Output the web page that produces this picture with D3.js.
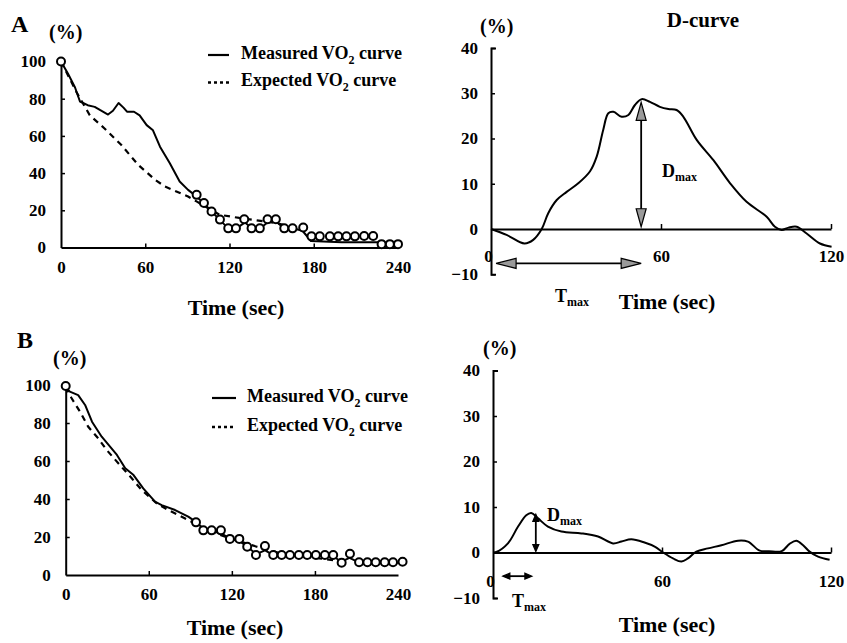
<!DOCTYPE html>
<html>
<head>
<meta charset="utf-8">
<script src="https://cdn.jsdelivr.net/npm/d3@7"></script>
<style>
  html, body { margin: 0; padding: 0; background: #fff; }
  svg { display: block; }
  text { font-family: "Liberation Serif", "Times New Roman", serif; font-weight: bold; fill: #000; }
</style>
</head>
<body>
<svg id="chart" width="847" height="643"></svg>
<script>
// ---------------- DATA ----------------
const leftTicksX = [0, 60, 120, 180, 240];
const leftTicksY = [0, 20, 40, 60, 80, 100];
const rightTicksX = [0, 60, 120];
const rightTicksY = [-10, 0, 10, 20, 30, 40];
const legendLabels = ["Measured VO", "Expected VO"];

// Panel A – VO2 curves (time s, %)
const aMeasured = [[0,100],[5,93.4],[10,86],[13.5,78.5],[19,76.5],[24,75.6],[28,73.8],[33.5,71.5],[37,73.5],[41,77.7],[44.5,75.2],[47,73],[52,73],[56,71],[61,65.8],[65.5,63],[70.5,54.2],[77.5,45.3],[84.5,35.5],[90.5,31],[96.5,27.5],[102,23.5],[107,19.5],[113,15],[119,10.3],[125,10.3],[131,13.5],[136,10.3],[142,10.3],[147,13.5],[153,14],[159,10.3],[165,10.3],[172,9],[178,3.5],[200,2.8],[225,2.8],[240,2]];
const aExpected = [[0,100],[11,83.6],[20.5,71.1],[31,64],[43,55.1],[55,44.4],[67,36.4],[74,32.8],[90.5,27.4],[96.5,24.8],[113,17.6],[127,15.9],[153,13.2],[175,9]];
const aCircles = [[0,100],[96.6,28.3],[101.8,23.9],[107.2,19.4],[113.2,15],[119.1,10.3],[124.6,10.3],[130.5,15.2],[135.7,10.3],[141.6,10.3],[147.1,15.2],[153,15.2],[159,10.3],[164.9,10.3],[172.5,10.8],[178.4,6],[184.3,6],[191.5,6],[197.4,6],[203.3,6],[209.3,6],[215.9,6.2],[222.3,6.2],[228.3,1.8],[234.2,1.8],[240,1.8]];
// Panel A – D-curve
const aDcurve = [[0,0],[5.5,-1.3],[11.8,-3.2],[14.9,-2.4],[17.9,0],[20.2,3.5],[23.2,6.4],[26.7,8.2],[30.8,10.1],[34.9,12.7],[37.3,16],[39.6,21.9],[41.4,25.6],[43.2,25.9],[46.1,24.8],[48.5,25.2],[50.8,27.4],[53.2,28.7],[56.1,28.1],[59.6,27],[62.6,26.5],[65.5,26.3],[67.9,24.8],[72.6,19.7],[78.5,15.2],[84.4,10.1],[90.2,6],[97.3,2.7],[100.2,0.5],[102.6,-0.2],[105,0.3],[107.9,0.5],[111.4,-1],[116.1,-3.2],[120.2,-3.9]];
const aDmaxArrow = [[53,0.5],[53,28]];
const aTmaxArrow = [[1.8,-7.6],[53,-7.6]];

// Panel B – VO2 curves
const bMeasured = [[0,99],[3,96.5],[9,94.7],[14,89.5],[19,80.7],[26,72.8],[37,63.2],[43,56.2],[49,52.6],[56,45.6],[64.5,38.6],[69.3,36.8],[79,34.2],[88.5,30.7],[94,28],[100,24],[106,23],[112,22],[119,19],[125,18],[131,15],[137.5,11],[144,13],[150,10.5],[175,10.5],[193,10],[199,7],[205,9],[212,6.5],[240,6.5]];
const bExpected = [[0,99],[4.3,93],[10.3,86],[16.3,78],[23.5,71.9],[29.6,65.8],[38,58.8],[47.7,50.9],[54.9,44.7],[65.7,37.7],[74.1,34.2],[83.8,30.7],[91,28],[100,24],[120,19],[138,14.9],[160,10.5],[180,9],[203,7]];
const bCircles = [[0,99.5],[94.1,27.7],[99.4,23.5],[105.4,23.5],[112.1,23.5],[118.6,19],[125.4,19],[131.1,14.9],[137.4,10.5],[143.9,15.2],[149.9,10.5],[156,10.5],[162,10.5],[168.4,10.5],[174.4,10.5],[180.7,10.5],[187.2,10.5],[193.2,10.5],[199.3,6.5],[205.3,11.2],[211.9,6.7],[217.9,6.7],[223.9,6.7],[230.4,6.7],[236.4,6.7],[243.3,7]];
// Panel B – D-curve
const bDcurve = [[0,0],[1.2,0.1],[5.3,2],[8.9,5.7],[11.8,8.2],[13.6,8.7],[16,7.5],[19.5,5.7],[24.3,4.6],[31.4,4.2],[37.3,3.5],[42.6,2],[45.6,2.4],[49.1,2.9],[53.8,2.2],[57.4,1.3],[60.4,0],[63.9,-1.3],[66.9,-2],[69.2,-1.3],[72.2,0.2],[76.3,0.9],[81.1,1.6],[87,2.6],[90.5,2.4],[94.7,0.4],[98,0.3],[102.5,0.3],[105.3,1.9],[107.7,2.6],[110.1,1.6],[112.4,0.2],[115.4,-0.9],[119.5,-1.6]];
const bDmaxArrow = [[15.2,0.2],[15.2,8.4]];
const bTmaxArrow = [[3.5,-5.2],[13.8,-5.2]];

// ---------------- DRAWING ----------------
const svg = d3.select("#chart");
const FS_TICK = 17;

function arrowHead(g, tipX, tipY, dirX, dirY, len, hw, fill) {
  const bx = tipX - dirX * len, by = tipY - dirY * len;
  const px = -dirY, py = dirX;
  g.append("path")
    .attr("d", d3.line()([[tipX, tipY], [bx + px * hw, by + py * hw], [bx - px * hw, by - py * hw]]) + "Z")
    .attr("fill", fill).attr("stroke", "#000").attr("stroke-width", 1.2).attr("stroke-linejoin", "miter");
}
function doubleArrow(g, x, y, pts, len, hw, fill, sw) {
  const p0 = [x(pts[0][0]), y(pts[0][1])], p1 = [x(pts[1][0]), y(pts[1][1])];
  const dx = p1[0] - p0[0], dy = p1[1] - p0[1], L = Math.hypot(dx, dy);
  const ux = dx / L, uy = dy / L;
  g.append("line").attr("x1", p0[0] + ux * len * 0.6).attr("y1", p0[1] + uy * len * 0.6)
    .attr("x2", p1[0] - ux * len * 0.6).attr("y2", p1[1] - uy * len * 0.6)
    .attr("stroke", "#000").attr("stroke-width", sw);
  arrowHead(g, p1[0], p1[1], ux, uy, len, hw, fill);
  arrowHead(g, p0[0], p0[1], -ux, -uy, len, hw, fill);
}
function subLabel(g, xPos, yPos, main, sub, fs, subFs) {
  const t = g.append("text").attr("x", xPos).attr("y", yPos).style("font-size", fs + "px");
  t.append("tspan").text(main);
  t.append("tspan").attr("dy", subFs * 0.35).style("font-size", subFs + "px").text(sub);
}
function styleAxis(sel) {
  sel.selectAll("path.domain").attr("stroke", "#000").attr("stroke-width", 2);
  sel.selectAll(".tick line").attr("stroke", "#000").attr("stroke-width", 1.5);
  sel.selectAll("text").style("font-size", FS_TICK + "px").attr("fill", "#000");
}

function leftPanel(cfg) {
  const g = svg.append("g");
  const x = d3.scaleLinear().domain([0, 240]).range(cfg.xr);
  const y = d3.scaleLinear().domain([0, 100]).range(cfg.yr);

  const ax = g.append("g").attr("transform", `translate(0,${y(0)})`)
    .call(d3.axisBottom(x).tickValues(leftTicksX).tickSizeInner(-4).tickSizeOuter(0).tickPadding(13).tickFormat(d3.format("d")));
  styleAxis(ax);
  ax.selectAll(".tick").filter(d => d === 0 || d === 240).select("line").remove();
  const ay = g.append("g").attr("transform", `translate(${x(0)},0)`)
    .call(d3.axisLeft(y).tickValues(leftTicksY).tickSizeInner(-4).tickSizeOuter(0).tickPadding(15).tickFormat(d3.format("d")));
  styleAxis(ay);
  ay.selectAll(".tick").filter(d => d === 0 || d === 100).select("line").remove();

  const line = d3.line().x(d => x(d[0])).y(d => y(d[1]));
  g.append("path").attr("d", line(cfg.expected)).attr("fill", "none")
    .attr("stroke", "#000").attr("stroke-width", 2.2).attr("stroke-dasharray", "6,5");
  g.append("path").attr("d", line(cfg.measured)).attr("fill", "none")
    .attr("stroke", "#000").attr("stroke-width", 2).attr("stroke-linejoin", "round");
  g.selectAll("circle.pt").data(cfg.circles).join("circle").attr("class", "pt")
    .attr("cx", d => x(d[0])).attr("cy", d => y(d[1])).attr("r", 4)
    .attr("fill", "#fff").attr("stroke", "#000").attr("stroke-width", 2);

  // legend
  const lg = g.append("g");
  legendLabels.forEach((lab, i) => {
    const ly = cfg.legY[i];
    lg.append("line").attr("x1", cfg.legX[0]).attr("x2", cfg.legX[1]).attr("y1", ly).attr("y2", ly)
      .attr("stroke", "#000").attr("stroke-width", i === 0 ? 2.2 : 2.4)
      .attr("stroke-dasharray", i === 0 ? null : "3,3");
    const t = lg.append("text").attr("x", cfg.legX[2]).attr("y", ly + 3.5).style("font-size", "18px");
    t.append("tspan").text(lab);
    t.append("tspan").attr("dy", 5).style("font-size", "12px").text("2");
    t.append("tspan").attr("dy", -5).text(" curve");
  });

  g.append("text").attr("x", cfg.letter[0]).attr("y", cfg.letter[1]).style("font-size", "24px").text(cfg.letterText);
  g.append("text").attr("x", cfg.pct[0]).attr("y", cfg.pct[1]).style("font-size", "20px").text("(%)");
  g.append("text").attr("x", cfg.title[0]).attr("y", cfg.title[1]).attr("text-anchor", "middle")
    .style("font-size", "22px").text("Time (sec)");
}

function rightPanel(cfg) {
  const g = svg.append("g");
  const x = d3.scaleLinear().domain([0, 120]).range(cfg.xr);
  const y = d3.scaleLinear().domain([-10, 40]).range(cfg.yr);

  const ay = g.append("g").attr("transform", `translate(${x(0)},0)`)
    .call(d3.axisLeft(y).tickValues(rightTicksY).tickSizeInner(-4).tickSizeOuter(-5).tickPadding(13).tickFormat(d3.format("d")));
  styleAxis(ay);
  ay.selectAll(".tick").filter(d => d === 0).select("line").remove();

  const ax = g.append("g").attr("transform", `translate(0,${y(0)})`)
    .call(d3.axisBottom(x).tickValues(rightTicksX).tickSizeInner(-5).tickSizeOuter(0).tickPadding(cfg.xPad).tickFormat(d3.format("d")));
  styleAxis(ax);
  ax.selectAll(".tick").filter(d => d === 0).select("line").remove();
  ax.selectAll(".tick").filter(d => d === 0).select("text").attr("dx", -3);

  const line = d3.line().curve(d3.curveCatmullRom.alpha(0.5)).x(d => x(d[0])).y(d => y(d[1]));
  g.append("path").attr("d", line(cfg.dcurve)).attr("fill", "none")
    .attr("stroke", "#000").attr("stroke-width", 2).attr("stroke-linejoin", "round");

  doubleArrow(g, x, y, cfg.dArrow, cfg.dHead[0], cfg.dHead[1], cfg.headFill, 1.8);
  doubleArrow(g, x, y, cfg.tArrow, cfg.tHead[0], cfg.tHead[1], cfg.headFill, 1.8);

  subLabel(g, cfg.dLab[0], cfg.dLab[1], "D", "max", 18, 12);
  subLabel(g, cfg.tLab[0], cfg.tLab[1], "T", "max", 18, 12);

  g.append("text").attr("x", cfg.pct[0]).attr("y", cfg.pct[1]).style("font-size", "20px").text("(%)");
  g.append("text").attr("x", cfg.title[0]).attr("y", cfg.title[1]).attr("text-anchor", "middle")
    .style("font-size", "22px").text("Time (sec)");
  if (cfg.head) {
    g.append("text").attr("x", cfg.head[0]).attr("y", cfg.head[1]).attr("text-anchor", "middle")
      .style("font-size", "21px").text("D-curve");
  }
}

leftPanel({
  xr: [61, 398], yr: [247.5, 61.5],
  measured: aMeasured, expected: aExpected, circles: aCircles,
  legY: [55, 82.5], legX: [208, 229, 241],
  letter: [11, 32], letterText: "A", pct: [49, 39], title: [236, 315]
});
rightPanel({
  xr: [491, 831], yr: [274.25, 48], xPad: 21,
  dcurve: aDcurve, dArrow: aDmaxArrow, tArrow: aTmaxArrow,
  dHead: [18, 5], tHead: [20, 5], headFill: "#9a9a9a",
  dLab: [662, 177], tLab: [555, 302],
  pct: [480, 33], title: [667, 309], head: [703, 27]
});
leftPanel({
  xr: [65.7, 398], yr: [575, 385],
  measured: bMeasured, expected: bExpected, circles: bCircles,
  legY: [398, 427], legX: [212, 236, 247],
  letter: [17, 348], letterText: "B", pct: [53, 365], title: [235, 635]
});
rightPanel({
  xr: [493, 831], yr: [598, 370.5], xPad: 22,
  dcurve: bDcurve, dArrow: bDmaxArrow, tArrow: bTmaxArrow,
  dHead: [7, 3], tHead: [7, 3], headFill: "#000",
  dLab: [547, 521], tLab: [512, 607],
  pct: [483, 355], title: [667, 632], head: null
});
</script>
</body>
</html>
